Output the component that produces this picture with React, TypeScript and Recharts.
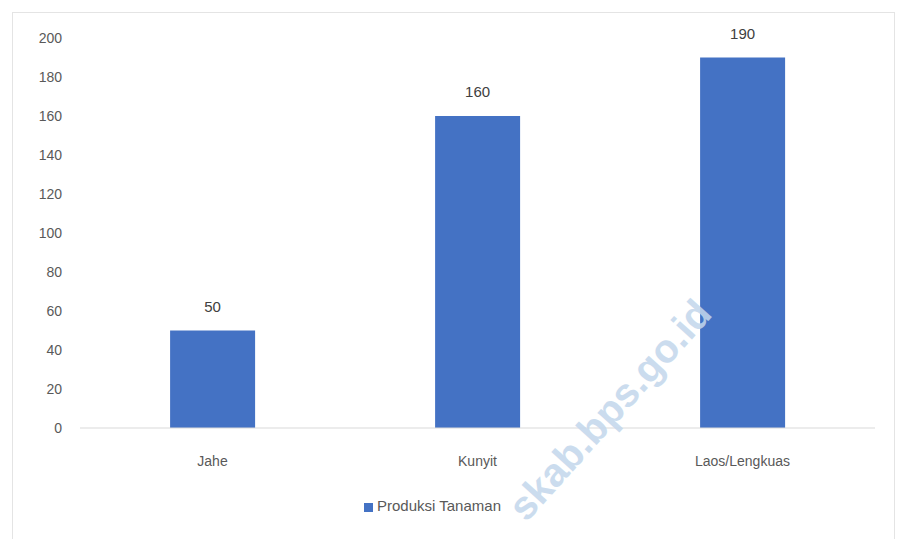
import { Bar, BarChart, LabelList, Legend, XAxis, YAxis } from "recharts";

const categories = ["Jahe", "Kunyit", "Laos/Lengkuas"];
const produksi = [50, 160, 190];
const yTicks = [0, 20, 40, 60, 80, 100, 120, 140, 160, 180, 200];

const data = categories.map((name, i) => ({ name, produksi: produksi[i] }));

const FONT = "'Liberation Sans', Arial, sans-serif";
const TICK = { fill: "#595959", fontSize: 14, fontFamily: FONT };

export default function App() {
  return (
    <div style={{ position: "absolute", left: 0, top: 0, width: 899, height: 539, background: "#fff", overflow: "hidden" }}>
      <div
        style={{
          position: "absolute",
          left: 12,
          top: 12,
          width: 883,
          height: 540,
          border: "1px solid #e4e4e4",
          boxSizing: "border-box",
        }}
      />
      <BarChart
        width={899}
        height={539}
        data={data}
        margin={{ top: 38, right: 24, left: 0, bottom: 64 }}
        barCategoryGap="34%"
      >
        <XAxis
          dataKey="name"
          tick={TICK}
          tickLine={false}
          tickSize={0}
          tickMargin={28}
          axisLine={{ stroke: "#d9d9d9" }}
          height={30}
        />
        <YAxis
          domain={[0, 200]}
          ticks={yTicks}
          tick={TICK}
          tickLine={false}
          tickSize={0}
          tickMargin={18}
          axisLine={false}
          width={80}
        />
        <Legend
          verticalAlign="bottom"
          align="center"
          iconType="square"
          iconSize={9}
          wrapperStyle={{ top: 497, fontFamily: FONT, fontSize: 15, color: "#595959" }}
          formatter={(v) => <span style={{ color: "#595959" }}>{v}</span>}
        />
        <Bar dataKey="produksi" name="Produksi Tanaman" fill="#4472C4" isAnimationActive={false}>
          <LabelList dataKey="produksi" position="top" offset={19} fill="#404040" fontSize={15} fontFamily={FONT} />
        </Bar>
      </BarChart>
      <div
        style={{
          position: "absolute",
          left: 610,
          top: 410,
          transform: "translate(-50%, -50%) rotate(-48deg)",
          fontFamily: FONT,
          fontWeight: "bold",
          fontSize: 40,
          color: "#c3d7ec",
          whiteSpace: "nowrap",
          pointerEvents: "none",
          opacity: 0.85,
        }}
      >
        skab.bps.go.id
      </div>
    </div>
  );
}
